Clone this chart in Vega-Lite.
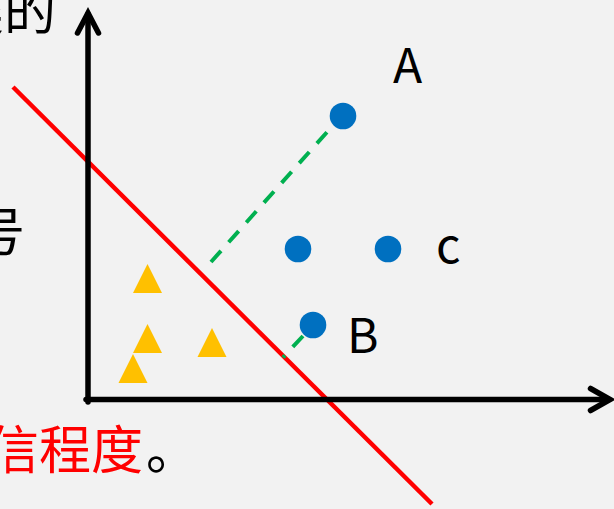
{
  "$schema": "https://vega.github.io/schema/vega-lite/v6.json",
  "width": 614,
  "height": 509,
  "autosize": {"type": "none"},
  "padding": 0,
  "background": "#f2f2f2",
  "config": {"view": {"stroke": null}},
  "datasets": {
    "axes": [
      {"id": "ya", "i": 0, "x": 88, "y": 402},
      {"id": "ya", "i": 1, "x": 88, "y": 14},
      {"id": "yh", "i": 0, "x": 77.5, "y": 33},
      {"id": "yh", "i": 1, "x": 88, "y": 13},
      {"id": "yh", "i": 2, "x": 98.5, "y": 33},
      {"id": "xa", "i": 0, "x": 86, "y": 399.5},
      {"id": "xa", "i": 1, "x": 609, "y": 399.5},
      {"id": "xh", "i": 0, "x": 590.5, "y": 388.5},
      {"id": "xh", "i": 1, "x": 610, "y": 399.5},
      {"id": "xh", "i": 2, "x": 590.5, "y": 410.5}
    ],
    "red": [
      {"i": 0, "x": 13, "y": 87},
      {"i": 1, "x": 432, "y": 504}
    ],
    "green": [
      {"id": "g1", "i": 0, "x": 211, "y": 262},
      {"id": "g1", "i": 1, "x": 328, "y": 131},
      {"id": "g2", "i": 0, "x": 303, "y": 336},
      {"id": "g2", "i": 1, "x": 283, "y": 357.5}
    ],
    "circles": [
      {"x": 343, "y": 116},
      {"x": 298, "y": 249},
      {"x": 388, "y": 249},
      {"x": 313, "y": 325}
    ],
    "triangles": [
      {"x": 147.5, "y": 278.5},
      {"x": 147.5, "y": 338.5},
      {"x": 212, "y": 342.5},
      {"x": 133, "y": 368.5}
    ],
    "latin": [
      {"t": "A", "x": 393, "y": 83},
      {"t": "c", "x": 436, "y": 263},
      {"t": "B", "x": 347, "y": 353}
    ],
    "cjkBlack": [
      {"t": "分类的", "x": 56, "y": 30},
      {"t": "符号", "x": 25, "y": 251}
    ],
    "cjkRed": [
      {"t": "确信程度", "x": 143, "y": 469}
    ],
    "dot": [
      {"t": "。", "x": 146, "y": 469}
    ]
  },
  "encoding": {
    "x": {"field": "x", "type": "quantitative", "scale": {"domain": [0, 614], "nice": false, "zero": false}, "axis": null},
    "y": {"field": "y", "type": "quantitative", "scale": {"domain": [509, 0], "nice": false, "zero": false}, "axis": null}
  },
  "layer": [
    {
      "data": {"name": "red"},
      "mark": {"type": "line", "color": "#ff0000", "strokeWidth": 4.5, "strokeCap": "butt"},
      "encoding": {"order": {"field": "i", "type": "quantitative"}}
    },
    {
      "data": {"name": "green"},
      "mark": {"type": "line", "color": "#00b050", "strokeWidth": 4, "strokeDash": [15, 11.5], "strokeCap": "butt"},
      "encoding": {"detail": {"field": "id", "type": "nominal"}, "order": {"field": "i", "type": "quantitative"}}
    },
    {
      "data": {"name": "axes"},
      "mark": {"type": "line", "color": "#000000", "strokeWidth": 5.5, "strokeCap": "round", "strokeJoin": "miter"},
      "encoding": {"detail": {"field": "id", "type": "nominal"}, "order": {"field": "i", "type": "quantitative"}}
    },
    {
      "data": {"name": "circles"},
      "mark": {"type": "point", "shape": "circle", "filled": true, "opacity": 1, "color": "#0070c0", "size": 707, "strokeWidth": 0}
    },
    {
      "data": {"name": "triangles"},
      "mark": {"type": "point", "shape": "M0,-1L1,1L-1,1Z", "filled": true, "opacity": 1, "color": "#ffc000", "size": 841, "strokeWidth": 0}
    },
    {
      "data": {"name": "latin"},
      "mark": {"type": "text", "font": "Noto Sans CJK SC", "fontSize": 48, "align": "left", "baseline": "alphabetic", "color": "#000000"},
      "encoding": {"text": {"field": "t"}}
    },
    {
      "data": {"name": "cjkBlack"},
      "mark": {"type": "text", "font": "Noto Sans CJK SC", "fontSize": 52, "align": "right", "baseline": "alphabetic", "color": "#000000"},
      "encoding": {"text": {"field": "t"}}
    },
    {
      "data": {"name": "cjkRed"},
      "mark": {"type": "text", "font": "Noto Sans CJK SC", "fontSize": 52, "align": "right", "baseline": "alphabetic", "color": "#ff0000"},
      "encoding": {"text": {"field": "t"}}
    },
    {
      "data": {"name": "dot"},
      "mark": {"type": "text", "font": "Noto Sans CJK SC", "fontSize": 52, "align": "left", "baseline": "alphabetic", "color": "#000000"},
      "encoding": {"text": {"field": "t"}}
    }
  ]
}
